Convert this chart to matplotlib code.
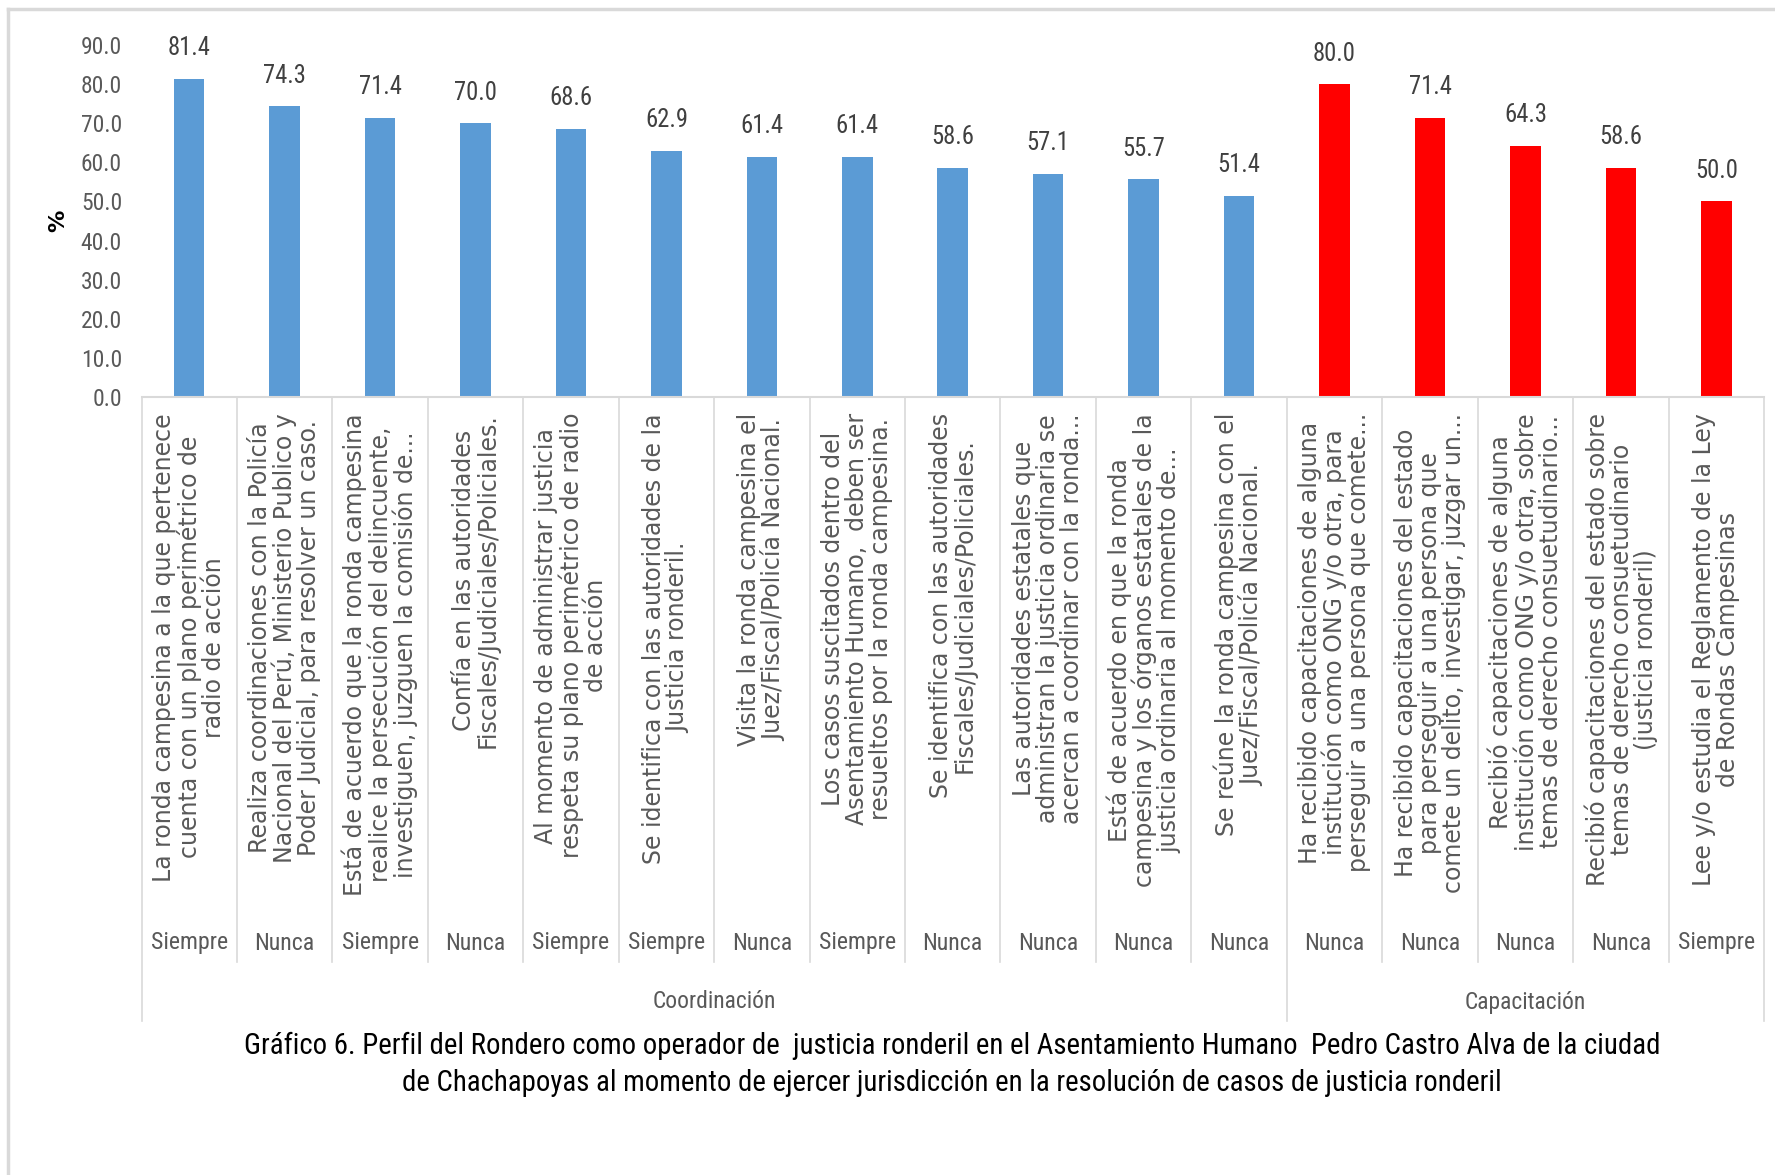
import matplotlib
matplotlib.use("Agg")
import matplotlib.pyplot as plt
from matplotlib import font_manager
from matplotlib.font_manager import FontProperties
from matplotlib.transforms import blended_transform_factory
from matplotlib.lines import Line2D

# ---------------- data ----------------
questions = [
    "La ronda campesina a la que pertenece\ncuenta con un plano perimétrico de\nradio de acción",
    "Realiza coordinaciones con la Policía\nNacional del Perú, Ministerio Publico y\nPoder Judicial, para resolver un caso.",
    "Está de acuerdo que la ronda campesina\nrealice la persecución del delincuente,\ninvestiguen, juzguen la comisión de...",
    "Confía en las autoridades\nFiscales/Judiciales/Policiales.",
    "Al momento de administrar justicia\nrespeta su plano perimétrico de radio\nde acción",
    "Se identifica con las autoridades de la\nJusticia ronderil.",
    "Visita la ronda campesina el\nJuez/Fiscal/Policía Nacional.",
    "Los casos suscitados dentro del\nAsentamiento Humano,  deben ser\nresueltos por la ronda campesina.",
    "Se identifica con las autoridades\nFiscales/Judiciales/Policiales.",
    "Las autoridades estatales que\nadministran la justicia ordinaria se\nacercan a coordinar con la ronda...",
    "Está de acuerdo en que la ronda\ncampesina y los órganos estatales de la\njusticia ordinaria al momento de...",
    "Se reúne la ronda campesina con el\nJuez/Fiscal/Policía Nacional.",
    "Ha recibido capacitaciones de alguna\ninstitución como ONG y/o otra, para\nperseguir a una persona que comete...",
    "Ha recibido capacitaciones del estado\npara perseguir a una persona que\ncomete un delito, investigar, juzgar un...",
    "Recibió capacitaciones de alguna\ninstitución como ONG y/o otra, sobre\ntemas de derecho consuetudinario...",
    "Recibió capacitaciones del estado sobre\ntemas de derecho consuetudinario\n(justicia ronderil)",
    "Lee y/o estudia el Reglamento de la Ley\nde Rondas Campesinas",
]
answers = ["Siempre", "Nunca", "Siempre", "Nunca", "Siempre", "Siempre", "Nunca",
           "Siempre", "Nunca", "Nunca", "Nunca", "Nunca", "Nunca", "Nunca",
           "Nunca", "Nunca", "Siempre"]
values = [81.4, 74.3, 71.4, 70.0, 68.6, 62.9, 61.4, 61.4, 58.6, 57.1, 55.7, 51.4,
          80.0, 71.4, 64.3, 58.6, 50.0]
groups = ["Coordinación", "Capacitación"]
group_sizes = [12, 5]
group_colors = ["#5B9BD5", "#FF0000"]
yticks = [0, 10, 20, 30, 40, 50, 60, 70, 80, 90]
title_lines = [
    "Gráfico 6. Perfil del Rondero como operador de  justicia ronderil en el Asentamiento Humano  Pedro Castro Alva de la ciudad",
    "de Chachapoyas al momento de ejercer jurisdicción en la resolución de casos de justicia ronderil",
]

# ---------------- fonts ----------------
def find_narrow():
    ttf = font_manager.fontManager.ttflist
    prefs = ["Liberation Sans Narrow", "Arial Narrow", "Roboto Condensed",
             "Open Sans Condensed", "Noto Sans Condensed"]
    for p in prefs:
        for f in ttf:
            if f.name == p and f.weight in (400, "normal", "regular") and f.style == "normal":
                return FontProperties(fname=f.fname)
    for f in ttf:
        if (("Narrow" in f.name or "Condensed" in f.name or
             f.stretch in ("condensed", "semi-condensed"))
                and f.style == "normal" and f.weight in (400, "normal", "regular")):
            return FontProperties(fname=f.fname)
    return FontProperties(family="DejaVu Sans")

narrow_fp = find_narrow()

W, H = 1775, 1175
fig = plt.figure(figsize=(W / 100, H / 100), dpi=100)
fig.patch.set_facecolor("white")
renderer = fig.canvas.get_renderer()

def fit_size(s, fp, target_px, base=20.0):
    t = fig.text(0, 0, s, fontproperties=fp, fontsize=base)
    w = t.get_window_extent(renderer=renderer).width
    t.remove()
    return base * target_px / w

tick_fs = fit_size("90.0", narrow_fp, 41)
data_fs = fit_size("81.4", narrow_fp, 43)
sub_fs = fit_size("Siempre", narrow_fp, 77)
grp_fs = fit_size("Coordinación", narrow_fp, 123)
title_fs = fit_size(title_lines[0], narrow_fp, 1409)

ax_left, ax_right, ax_bottom, ax_top = 141.5, 1764, 397, 45
ax = fig.add_axes([ax_left / W, 1 - ax_bottom / H, (ax_right - ax_left) / W,
                   (ax_bottom - ax_top) / H])

n = len(values)
colors = []
for g, s in zip(group_colors, group_sizes):
    colors += [g] * s
x = list(range(n))
ax.bar(x, values, width=0.32, color=colors, zorder=2)
ax.set_xlim(-0.5, n - 0.5)
ax.set_ylim(0, 90)
ax.set_yticks(yticks)
ax.set_yticklabels([f"{v:.1f}" for v in yticks], fontproperties=narrow_fp,
                   fontsize=tick_fs, color="#595959")
ax.tick_params(axis="y", length=0, pad=14)
ax.set_xticks([])
for side in ["left", "right", "top"]:
    ax.spines[side].set_visible(False)
ax.spines["bottom"].set_color("#D9D9D9")
ax.spines["bottom"].set_linewidth(1.5)

for xi, v in zip(x, values):
    ax.annotate(f"{v:.1f}", (xi, v), xytext=(0, 22), textcoords="offset points",
                ha="center", va="center", fontproperties=narrow_fp,
                fontsize=data_fs, color="#404040")

ax.set_ylabel("%", fontsize=16, fontweight="bold", color="black")
ax.yaxis.set_label_coords(-0.045, 0.5)

# ---------------- category area ----------------
tr = blended_transform_factory(ax.transData, fig.transFigure)
def fy(px):
    return 1 - px / H

for xi, q in zip(x, questions):
    ax.text(xi, fy(413), q, transform=tr, rotation=90, ha="center", va="top",
            multialignment="center", fontfamily="DejaVu Sans", fontsize=17,
            color="#595959", linespacing=1.0, clip_on=False)
for xi, a in zip(x, answers):
    ax.text(xi, fy(943), a, transform=tr, ha="center", va="center",
            fontproperties=narrow_fp, fontsize=sub_fs, color="#595959",
            clip_on=False)

# separators
group_edges = [0]
for s in group_sizes:
    group_edges.append(group_edges[-1] + s)
for b in range(n + 1):
    bottom = 1021 if b in group_edges else 962
    ax.add_line(Line2D([b - 0.5, b - 0.5], [fy(397), fy(bottom)], transform=tr,
                       color="#D9D9D9", linewidth=1.2, clip_on=False))

start = 0
for g, s in zip(groups, group_sizes):
    cx = start + s / 2 - 0.5
    ax.text(cx, fy(1002), g, transform=tr, ha="center", va="center",
            fontproperties=narrow_fp, fontsize=grp_fs, color="#595959",
            clip_on=False)
    start += s

# ---------------- title ----------------
fig.text(952 / W, fy(1046), title_lines[0], ha="center", va="center",
         fontproperties=narrow_fp, fontsize=title_fs, color="black")
fig.text(952 / W, fy(1083), title_lines[1], ha="center", va="center",
         fontproperties=narrow_fp, fontsize=title_fs, color="black")

# outer frame (top and left)
fig.add_artist(Line2D([8 / W, 1], [fy(9), fy(9)], transform=fig.transFigure,
                      color="#D9D9D9", linewidth=2.5))
fig.add_artist(Line2D([8 / W, 8 / W], [0, fy(9)], transform=fig.transFigure,
                      color="#D9D9D9", linewidth=2.5))

fig.savefig("out.png", dpi=100, facecolor="white")
